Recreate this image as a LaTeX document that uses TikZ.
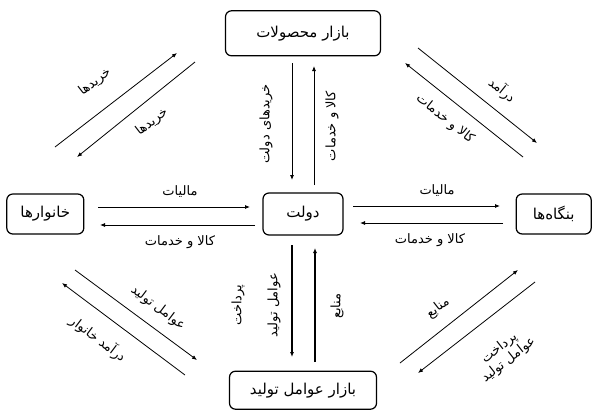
\documentclass[tikz,border=0pt]{standalone}
\usepackage{fontspec}
\newfontfamily\farsifont[Script=Arabic]{DejaVu Sans}
\TeXXeTstate=1
\usetikzlibrary{arrows.meta, positioning}
\newcommand{\fatext}[1]{{\farsifont\beginR #1\endR}}
\tikzset{
  box/.style={draw, rounded corners=6pt, line width=1.2pt, align=center, inner sep=0pt, font=\fontsize{15}{17}\selectfont},
  arrow/.style={-{Latex[length=5pt,width=4pt]}, line width=0.8pt},
  note/.style={align=center, inner sep=1pt, font=\fontsize{13}{15}\selectfont}
}

\begin{document}
\begin{tikzpicture}[x=1pt, y=-1pt]
    \useasboundingbox (0,0) rectangle (592,410);

    % the five boxes
    \node[box, minimum width=80pt, minimum height=42pt] (gov) at (303,214) {\fatext{دولت}};
    \node[box, minimum width=155pt, minimum height=45pt, above=136pt of gov] (prod) {\fatext{بازار محصولات}};
    \node[box, minimum width=147pt, minimum height=38pt, below=135pt of gov] (fact) {\fatext{بازار عوامل تولید}};
    \node[box, minimum width=77pt, minimum height=40pt, left=178pt of gov] (home) {\fatext{خانوارها}};
    \node[box, minimum width=75pt, minimum height=40pt, right=172pt of gov] (firm) {\fatext{بنگاه‌ها}};

    % arrow ends
    \coordinate (tlAs) at (55,147);  \coordinate (tlAe) at (177,53);
    \coordinate (tlBs) at (195,62);  \coordinate (tlBe) at (77,157);
    \coordinate (trAs) at (418,48);  \coordinate (trAe) at (537,143);
    \coordinate (trBs) at (523,157); \coordinate (trBe) at (405,63);
    \coordinate (tvAs) at (292,63);  \coordinate (tvAe) at (292,180);
    \coordinate (tvBs) at (314,185); \coordinate (tvBe) at (314,66);
    \coordinate (lhAs) at (98,207);  \coordinate (lhAe) at (250,207);
    \coordinate (lhBs) at (255,225); \coordinate (lhBe) at (100,225);
    \coordinate (rhAs) at (353,206); \coordinate (rhAe) at (500,206);
    \coordinate (rhBs) at (503,223); \coordinate (rhBe) at (360,223);
    \coordinate (bvAs) at (292,245); \coordinate (bvAe) at (292,357);
    \coordinate (bvBs) at (315,362); \coordinate (bvBe) at (315,248);
    \coordinate (blAs) at (75,270);  \coordinate (blAe) at (197,360);
    \coordinate (blBs) at (185,375); \coordinate (blBe) at (62,283);
    \coordinate (brAs) at (400,363); \coordinate (brAe) at (518,270);
    \coordinate (brBs) at (535,282); \coordinate (brBe) at (418,373);

    \draw[arrow] (tlAs) -- (tlAe);
    \draw[arrow] (tlBs) -- (tlBe);
    \draw[arrow] (trAs) -- (trAe);
    \draw[arrow] (trBs) -- (trBe);
    \draw[arrow] (tvAs) -- (tvAe);
    \draw[arrow] (tvBs) -- (tvBe);
    \draw[arrow] (lhAs) -- (lhAe);
    \draw[arrow] (lhBs) -- (lhBe);
    \draw[arrow] (rhAs) -- (rhAe);
    \draw[arrow] (rhBs) -- (rhBe);
    \draw[arrow, line width=1.2pt] (bvAs) -- (bvAe);
    \draw[arrow, line width=1.2pt] (bvBs) -- (bvBe);
    \draw[arrow] (blAs) -- (blAe);
    \draw[arrow] (blBs) -- (blBe);
    \draw[arrow] (brAs) -- (brAe);
    \draw[arrow] (brBs) -- (brBe);

    % labels
    \node[note, rotate=37.6] (tlA) at (95,82) {\fatext{خریدها}};
    \node[note, rotate=37.6] (tlB) at (152,122) {\fatext{خریدها}};
    \node[note, rotate=-38.6] (trA) at (502,90) {\fatext{درآمد}};
    \node[note, rotate=-38.6] (trB) at (445,119) {\fatext{کالا و خدمات}};
    \node[note, rotate=90] (tvA) at (266,124) {\fatext{خریدهای دولت}};
    \node[note, rotate=90] (tvB) at (332,126) {\fatext{کالا و خدمات}};
    \node[note] (lhA) at (180,192) {\fatext{مالیات}};
    \node[note] (lhB) at (180,242) {\fatext{کالا و خدمات}};
    \node[note] (rhA) at (437,191) {\fatext{مالیات}};
    \node[note] (rhB) at (430,240) {\fatext{کالا و خدمات}};
    \node[note, rotate=90] (bvA) at (238,305) {\fatext{پرداخت}};
    \node[note, rotate=90] (bvC) at (274,305) {\fatext{عوامل تولید}};
    \node[note, rotate=90] (bvB) at (337,306) {\fatext{منابع}};
    \node[note, rotate=-37] (blA) at (158,308) {\fatext{عوامل تولید}};
    \node[note, rotate=-37] (blB) at (98,339) {\fatext{درآمد خانوار}};
    \node[note, rotate=38] (brA) at (438,308) {\fatext{منابع}};
    \node[note, rotate=38] (brB) at (504,354) {\fatext{پرداخت}\\\fatext{عوامل تولید}};
\end{tikzpicture}
\end{document}
